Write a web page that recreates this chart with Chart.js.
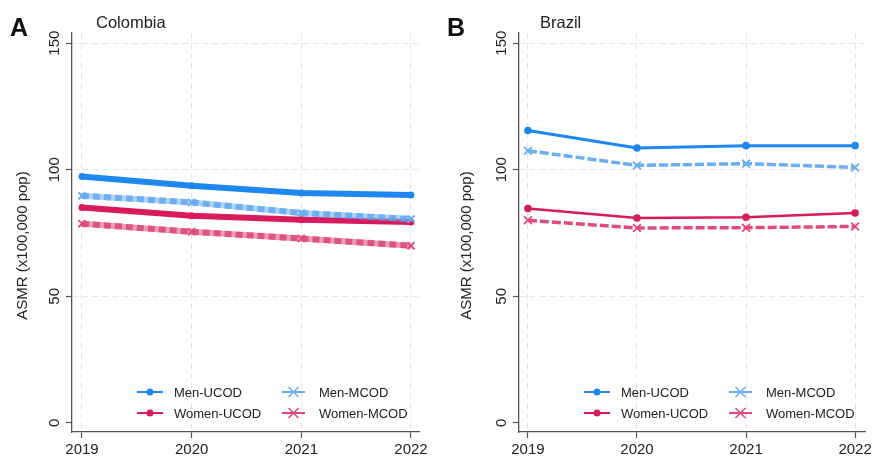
<!DOCTYPE html>
<html>
<head>
<meta charset="utf-8">
<script src="https://cdn.jsdelivr.net/npm/chart.js@4.4.1/dist/chart.umd.min.js"></script>
<style>
  html, body { margin: 0; padding: 0; background: #fff; }
  body { width: 875px; height: 459px; position: relative; overflow: hidden; font-family: "Liberation Sans", Arial, sans-serif; }
  .pane { position: absolute; top: 0; height: 459px; }
  .tag { position: absolute; font-weight: bold; font-size: 25px; line-height: 1; color: #111; }
  .ttl { position: absolute; font-size: 16.5px; line-height: 1; color: #222; }
</style>
</head>
<body>
<div class="pane" style="left:0;width:437px"><canvas id="chartA" width="437" height="459"></canvas></div>
<div class="pane" style="left:437px;width:438px"><canvas id="chartB" width="438" height="459"></canvas></div>
<div class="tag" style="left:10px;top:15px">A</div>
<div class="ttl" style="left:96px;top:14px">Colombia</div>
<div class="tag" style="left:447px;top:15px">B</div>
<div class="ttl" style="left:540px;top:14px">Brazil</div>

<script>
// ── datos ──
const years = [2019, 2020, 2021, 2022];
const yTicks = [0, 50, 100, 150];
const yTitle = 'ASMR (x100,000 pop)';

const colMenUcod   = [97.3, 93.7, 90.8, 90.0];
const colMenMcod   = [89.7, 87.1, 82.9, 80.5];
const colWomenUcod = [85.1, 81.8, 80.2, 79.3];
const colWomenMcod = [78.7, 75.5, 72.8, 70.0];

const braMenUcod   = [115.5, 108.6, 109.5, 109.5];
const braMenMcod   = [107.5, 101.7, 102.4, 100.9];
const braWomenUcod = [84.7, 80.9, 81.2, 82.9];
const braWomenMcod = [80.0, 77.0, 77.1, 77.6];

const C = {
    menU: '#1f87f0',
    menM: '#6aaef2',
    womU: '#d81b5c',
    womM: '#e04a80'
};
const FONT = '"Liberation Sans", Arial, sans-serif';

function pts(vals) {
    return years.map((y, i) => ({ x: y, y: vals[i] }));
}

// ── leyenda dentro del área + título del eje y ──
const insideLegend = {
    id: 'insideLegend',
    afterDraw(chart, args, o) {
        const ctx = chart.ctx, a = chart.chartArea;
        const items = [
            { t: 'Men-UCOD',   c: C.menU, m: 'dot',   col: 0, row: 0 },
            { t: 'Women-UCOD', c: C.womU, m: 'dot',   col: 0, row: 1 },
            { t: 'Men-MCOD',   c: C.menM, m: 'cross', col: 1, row: 0 },
            { t: 'Women-MCOD', c: C.womM, m: 'cross', col: 1, row: 1 }
        ];
        ctx.save();
        ctx.font = '13px ' + FONT;
        ctx.textBaseline = 'middle';
        items.forEach(it => {
            const x0 = a.left + (it.col ? o.col2 : o.col1);
            const y = a.bottom + (it.row ? -19 : -40);
            const w = it.col ? 23 : 26;
            ctx.strokeStyle = it.c;
            ctx.lineWidth = 2;
            ctx.beginPath(); ctx.moveTo(x0, y); ctx.lineTo(x0 + w, y); ctx.stroke();
            const cx = x0 + w / 2;
            if (it.m === 'dot') {
                ctx.fillStyle = it.c;
                ctx.beginPath(); ctx.arc(cx, y, 3.5, 0, Math.PI * 2); ctx.fill();
            } else {
                ctx.lineWidth = 1.6;
                ctx.beginPath();
                ctx.moveTo(cx - 5, y - 5); ctx.lineTo(cx + 5, y + 5);
                ctx.moveTo(cx + 5, y - 5); ctx.lineTo(cx - 5, y + 5);
                ctx.stroke();
            }
            ctx.fillStyle = '#222';
            ctx.fillText(it.t, x0 + 37, y + 1);
        });

        // título vertical, algo más abajo que el centro del área
        ctx.font = '15px ' + FONT;
        ctx.textAlign = 'center';
        ctx.translate(o.titleX, (a.top + a.bottom) / 2 + 13);
        ctx.rotate(-Math.PI / 2);
        ctx.fillText(yTitle, 0, 0);
        ctx.restore();
    }
};

function makePanel(id, sets, cfg) {
    return new Chart(document.getElementById(id), {
        type: 'line',
        data: { datasets: sets },
        options: {
            responsive: false,
            animation: false,
            layout: { padding: { top: 33, right: cfg.padRight, left: 0, bottom: 0 } },
            plugins: {
                legend: { display: false },
                tooltip: { enabled: false },
                insideLegend: { col1: 65, col2: 210, titleX: cfg.titleX }
            },
            scales: {
                x: {
                    type: 'linear',
                    min: cfg.xMin, max: cfg.xMax,
                    afterBuildTicks: s => { s.ticks = years.map(v => ({ value: v })); },
                    afterFit: s => { s.height = 27; },
                    grid: { color: '#e6e6e6', lineWidth: 1, tickLength: 6, tickColor: '#555', tickWidth: 1.2 },
                    border: { display: true, color: '#555', width: 1.3, dash: [6, 4] },
                    ticks: { color: '#222', font: { family: FONT, size: 15 }, padding: 3, maxRotation: 0, callback: v => String(v) }
                },
                y: {
                    min: -3.6, max: 154,
                    afterBuildTicks: s => { s.ticks = yTicks.map(v => ({ value: v })); },
                    afterFit: s => { s.width = cfg.yWidth; },
                    grid: {
                        color: c => (c.tick && c.tick.value === 0) ? 'rgba(0,0,0,0)' : '#e6e6e6',
                        lineWidth: 1, tickLength: 6, tickColor: '#555', tickWidth: 1.2
                    },
                    border: { display: true, color: '#555', width: 1.3, dash: [6, 4] },
                    ticks: {
                        color: '#222', font: { family: FONT, size: 15 },
                        minRotation: 90, maxRotation: 90, crossAlign: 'center', padding: -1
                    }
                }
            }
        },
        plugins: [insideLegend]
    });
}

// ── Colombia: líneas gruesas ──
const colSets = [
    { label: 'Men-MCOD band', data: pts(colMenMcod), borderColor: 'rgba(106,174,242,0.55)', borderWidth: 6, pointRadius: 0 },
    { label: 'Men-MCOD', data: pts(colMenMcod), borderColor: 'rgba(70,150,235,0.75)', borderWidth: 6, borderDash: [7, 4],
      pointStyle: 'crossRot', pointRadius: 5, pointBorderWidth: 2, pointBorderColor: C.menM },
    { label: 'Women-MCOD band', data: pts(colWomenMcod), borderColor: 'rgba(224,74,128,0.55)', borderWidth: 6, pointRadius: 0 },
    { label: 'Women-MCOD', data: pts(colWomenMcod), borderColor: 'rgba(210,40,100,0.75)', borderWidth: 6, borderDash: [7, 4],
      pointStyle: 'crossRot', pointRadius: 5, pointBorderWidth: 2, pointBorderColor: C.womM },
    { label: 'Women-UCOD', data: pts(colWomenUcod), borderColor: C.womU, borderWidth: 6,
      pointRadius: 3.5, pointBackgroundColor: C.womU, pointBorderWidth: 0 },
    { label: 'Men-UCOD', data: pts(colMenUcod), borderColor: C.menU, borderWidth: 6,
      pointRadius: 3.5, pointBackgroundColor: C.menU, pointBorderWidth: 0 }
];

// ── Brasil: líneas finas con marcadores ──
const braSets = [
    { label: 'Men-MCOD', data: pts(braMenMcod), borderColor: C.menM, borderWidth: 3.5, borderDash: [9, 3],
      pointStyle: 'crossRot', pointRadius: 5.5, pointBorderWidth: 1.8, pointBorderColor: C.menM },
    { label: 'Women-MCOD', data: pts(braWomenMcod), borderColor: C.womM, borderWidth: 3.5, borderDash: [9, 3],
      pointStyle: 'crossRot', pointRadius: 5.5, pointBorderWidth: 1.8, pointBorderColor: C.womM },
    { label: 'Women-UCOD', data: pts(braWomenUcod), borderColor: C.womU, borderWidth: 2.5,
      pointRadius: 3.8, pointBackgroundColor: C.womU, pointBorderWidth: 0 },
    { label: 'Men-UCOD', data: pts(braMenUcod), borderColor: C.menU, borderWidth: 3,
      pointRadius: 3.8, pointBackgroundColor: C.menU, pointBorderWidth: 0 }
];

makePanel('chartA', colSets, { padRight: 18, yWidth: 72, titleX: 23, xMin: 2018.909, xMax: 2022.073 });
makePanel('chartB', braSets, { padRight: 8, yWidth: 82, titleX: 30, xMin: 2018.918, xMax: 2022.091 });
</script>
</body>
</html>
